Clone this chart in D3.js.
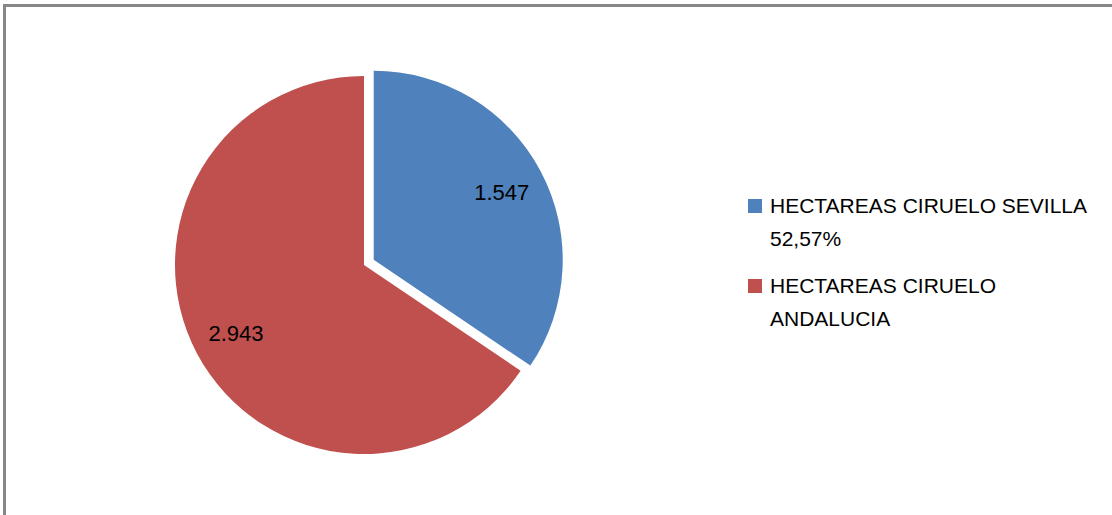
<!DOCTYPE html>
<html><head><meta charset="utf-8">
<script src="https://cdn.jsdelivr.net/npm/d3@7"></script>
<style>body{margin:0;background:#fff;overflow:hidden}</style>
</head><body>
<svg id="c" width="1112" height="515"></svg>
<script>
const categories = ["HECTAREAS CIRUELO SEVILLA", "HECTAREAS CIRUELO ANDALUCIA"];
const values = [1547, 2943];
const valueLabels = ["1.547", "2.943"];
const legendLines = [["HECTAREAS CIRUELO SEVILLA", "52,57%"], ["HECTAREAS CIRUELO", "ANDALUCIA"]];
const colors = ["#4f81bd", "#c0504d"];
const explode = [11, 0];

const svg = d3.select("#c");
svg.append("rect").attr("x",4.5).attr("y",5.5).attr("width",1200).attr("height",600)
  .attr("fill","#fff").attr("stroke","#878787").attr("stroke-width",3);

const cx = 364, cy = 265, r = 189;
const pie = d3.pie().sort(null).value(d=>d);
const arcs = pie(values);
const arc = d3.arc().innerRadius(0).outerRadius(r);
const labelArc = d3.arc().innerRadius(r*0.767).outerRadius(r*0.767);
const g = svg.append("g").attr("transform",`translate(${cx},${cy})`);
arcs.forEach((a,i)=>{
  const mid = (a.startAngle+a.endAngle)/2;
  const dx = Math.sin(mid)*explode[i], dy = -Math.cos(mid)*explode[i];
  const gg = g.append("g").attr("transform",`translate(${dx},${dy})`);
  gg.append("path").attr("d",arc(a)).attr("fill",colors[i]);
});
arcs.forEach((a,i)=>{
  const mid = (a.startAngle+a.endAngle)/2;
  const dx = Math.sin(mid)*explode[i], dy = -Math.cos(mid)*explode[i];
  const c = labelArc.centroid(a);
  g.append("text").attr("x",c[0]+dx).attr("y",c[1]+dy).attr("dy","0.35em")
   .attr("text-anchor","middle").attr("font-family","Liberation Sans, Arial, sans-serif")
   .attr("font-size",22).attr("fill","#000").text(valueLabels[i]);
});
const lg = svg.append("g");
const ly = [199, 279];
legendLines.forEach((lines,i)=>{
  lg.append("rect").attr("x",748).attr("y",ly[i]).attr("width",14).attr("height",14).attr("fill",colors[i]);
  lines.forEach((t,j)=>{
    lg.append("text").attr("x",770).attr("y",ly[i]+14+j*33)
      .attr("font-family","Liberation Sans, Arial, sans-serif").attr("font-size",21)
      .attr("fill","#000").text(t);
  });
});
</script>
</body></html>
